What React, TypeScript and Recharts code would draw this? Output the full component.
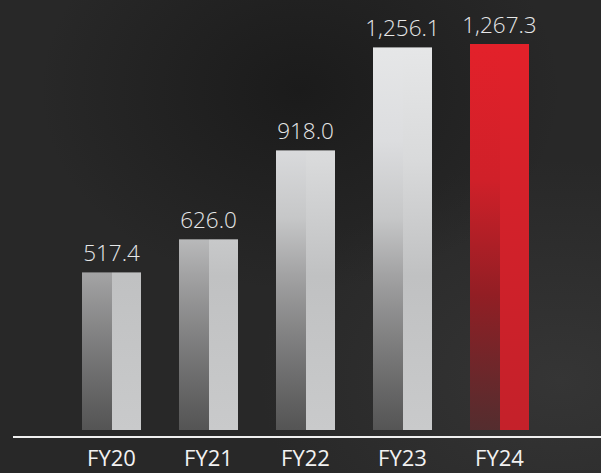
import { BarChart, Bar, XAxis, YAxis, LabelList } from "recharts";

const years = ["FY20", "FY21", "FY22", "FY23", "FY24"];
const revenue = [517.4, 626.0, 918.0, 1256.1, 1267.3];
const highlight = "FY24";

const data = years.map((year, i) => ({ year, value: revenue[i] }));

const W = 601;
const H = 473;
const TOP = 44;
const BASE = 430;
const TEXT = "#e6e7e8";
const FONT = "'Open Sans', 'Noto Sans', sans-serif";

// Split bar: darker left half, lighter right half, both fading in page space.
function SplitBar(props: any) {
  const { x, y, width, height, payload } = props;
  if (!height || height <= 0) return null;
  const half = Math.round(width / 2);
  const red = payload.year === highlight;
  return (
    <g>
      <rect x={x} y={y} width={half} height={height} fill={red ? "url(#redL)" : "url(#grayL)"} />
      <rect x={x + half} y={y} width={width - half} height={height} fill={red ? "url(#redR)" : "url(#grayR)"} />
    </g>
  );
}

function ValueLabel(props: any) {
  const { x, y, width, value } = props;
  return (
    <text
      x={x + width / 2}
      y={y - 11}
      textAnchor="middle"
      fill={TEXT}
      fontSize={22.5}
      fontWeight={300}
      fontFamily={FONT}
    >
      {Number(value).toLocaleString("en-US", { minimumFractionDigits: 1, maximumFractionDigits: 1 })}
    </text>
  );
}

function YearTick(props: any) {
  const { x, payload } = props;
  return (
    <text x={x} y={466} textAnchor="middle" fill="#f2f2f2" fontSize={22} fontFamily={FONT}>
      {payload.value}
    </text>
  );
}

export default function App() {
  return (
    <div
      style={{
        position: "fixed",
        left: 0,
        top: 0,
        width: W,
        height: H,
        overflow: "hidden",
        background:
          "radial-gradient(ellipse 260px 200px at 300px 90px, #1b1b1b 0%, rgba(27,27,27,0) 100%), radial-gradient(ellipse 300px 220px at 560px 380px, #353535 0%, rgba(53,53,53,0) 100%), #282828",
      }}
    >
      <BarChart
        width={W}
        height={H}
        data={data}
        margin={{ top: TOP, right: 53, left: 63, bottom: 0 }}
        barCategoryGap={19}
      >
        <defs>
          <linearGradient id="grayL" gradientUnits="userSpaceOnUse" x1="0" y1={TOP} x2="0" y2={BASE}>
            <stop offset="0" stopColor="#e6e7e8" />
            <stop offset="0.25" stopColor="#dcdddf" />
            <stop offset="0.45" stopColor="#c6c7c8" />
            <stop offset="0.6" stopColor="#a2a2a3" />
            <stop offset="1" stopColor="#5c5c5c" stopOpacity={0.85} />
          </linearGradient>
          <linearGradient id="grayR" gradientUnits="userSpaceOnUse" x1="0" y1={TOP} x2="0" y2={BASE}>
            <stop offset="0" stopColor="#e6e7e8" />
            <stop offset="0.3" stopColor="#d9dadb" />
            <stop offset="0.6" stopColor="#c0c1c2" />
            <stop offset="1" stopColor="#c9cacb" />
          </linearGradient>
          <linearGradient id="redL" gradientUnits="userSpaceOnUse" x1="0" y1={TOP} x2="0" y2={BASE}>
            <stop offset="0" stopColor="#e3212a" />
            <stop offset="0.35" stopColor="#d02029" />
            <stop offset="0.65" stopColor="#921e24" />
            <stop offset="1" stopColor="#5a2c2e" stopOpacity={0.85} />
          </linearGradient>
          <linearGradient id="redR" gradientUnits="userSpaceOnUse" x1="0" y1={TOP} x2="0" y2={BASE}>
            <stop offset="0" stopColor="#e3212a" />
            <stop offset="0.4" stopColor="#d4212a" />
            <stop offset="1" stopColor="#c4212a" />
          </linearGradient>
        </defs>
        <XAxis
          dataKey="year"
          height={H - BASE}
          axisLine={false}
          tickLine={false}
          tick={<YearTick />}
          interval={0}
        />
        <YAxis hide domain={[0, 1267.3]} />
        <Bar dataKey="value" shape={<SplitBar />} isAnimationActive={false}>
          <LabelList dataKey="value" content={<ValueLabel />} />
        </Bar>
      </BarChart>
      <div
        style={{
          position: "absolute",
          left: 13,
          top: 436,
          width: W - 13,
          height: 2,
          background: "#f0f0f0",
        }}
      />
    </div>
  );
}
